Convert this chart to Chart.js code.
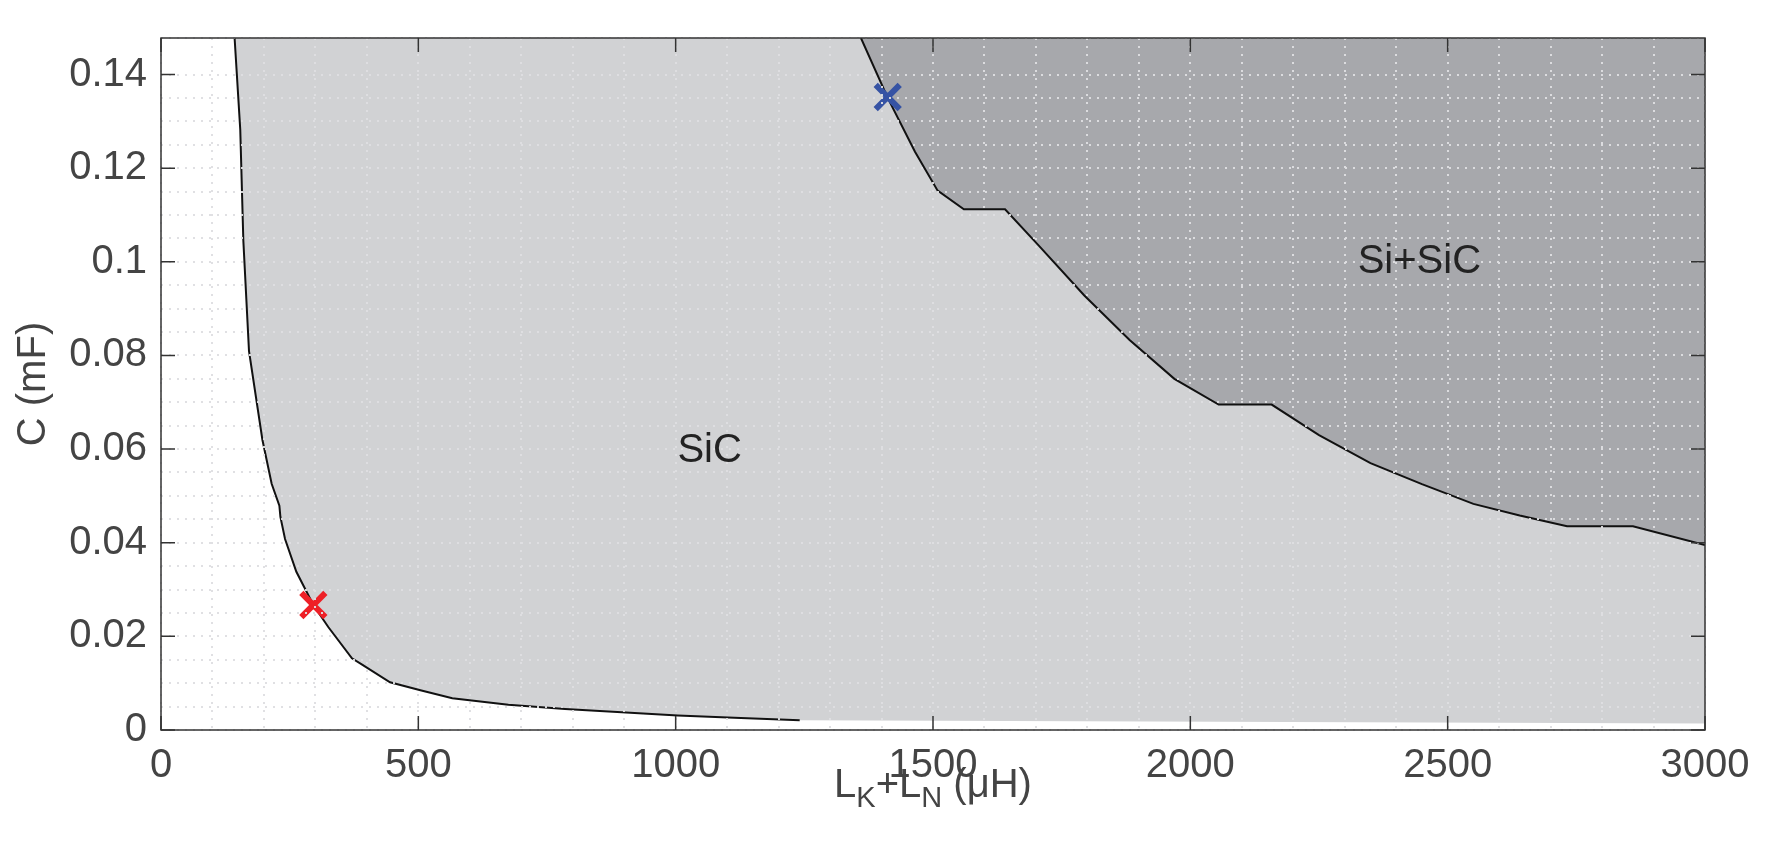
<!DOCTYPE html>
<html>
<head>
<meta charset="utf-8">
<script src="https://cdn.jsdelivr.net/npm/chart.js@4"></script>
<style>
  body { margin: 0; background: #fff; }
  #wrap { width: 1770px; height: 855px; }
</style>
</head>
<body>
<div id="wrap"><canvas id="grafico"></canvas></div>
<script>
// frontera izquierda (SiC), L en uH y C en mF
const izqL = [143, 154, 160, 171, 197, 215, 230, 232, 241, 263, 296, 325, 371, 390, 445, 504, 566, 675, 785, 895, 1004, 1114, 1241];
const izqC = [0.1478, 0.1282, 0.1045, 0.0809, 0.0620, 0.0526, 0.0479, 0.0455, 0.0408, 0.0338, 0.0267, 0.0220, 0.0153, 0.0140, 0.0102, 0.0085, 0.0068, 0.0054, 0.0045, 0.0038, 0.0031, 0.0026, 0.0021];
// frontera Si+SiC
const supL = [1360, 1412, 1465, 1509, 1560, 1640, 1706, 1794, 1882, 1969, 2055, 2158, 2250, 2350, 2450, 2550, 2640, 2732, 2860, 3000];
const supC = [0.1478, 0.1350, 0.1235, 0.1152, 0.1112, 0.1112, 0.1034, 0.0928, 0.0833, 0.0750, 0.0695, 0.0695, 0.0630, 0.0570, 0.0525, 0.0483, 0.0458, 0.0435, 0.0435, 0.0395];
const fondoC = 0.0014; // borde inferior de la zona gris
const puntoRojo = [296, 0.0267];
const puntoAzul = [1412, 0.1352];
const xMax = 3000, yMax = 0.1478;

const curvaIzq = izqL.map((l, i) => ({x: l, y: izqC[i]}));
const zonaIzq = curvaIzq.concat([{x: xMax, y: fondoC}]);
const ptsSup = supL.map((l, i) => ({x: l, y: supC[i]}));

const esMayorY = v => Math.abs(v / 0.02 - Math.round(v / 0.02)) < 1e-6;
const colorRejilla = "rgba(222,222,225,0.95)";
const fuente = "'Liberation Sans', Arial, sans-serif";

// textos, ticks interiores y titulos de ejes
const extras = {
  id: "extras",
  afterDraw(chart) {
    const c = chart.ctx, x = chart.scales.x, y = chart.scales.y, a = chart.chartArea;
    c.save();
    c.strokeStyle = "#333"; c.lineWidth = 1.5;
    for (let v = 0; v <= xMax; v += 500) {
      const px = x.getPixelForValue(v);
      c.beginPath(); c.moveTo(px, a.bottom); c.lineTo(px, a.bottom - 14);
      c.moveTo(px, a.top); c.lineTo(px, a.top + 14); c.stroke();
    }
    for (let v = 0; v <= 0.14 + 1e-9; v += 0.02) {
      const py = y.getPixelForValue(v);
      c.beginPath(); c.moveTo(a.left, py); c.lineTo(a.left + 14, py);
      c.moveTo(a.right, py); c.lineTo(a.right - 14, py); c.stroke();
    }
    c.strokeRect(a.left, a.top, a.right - a.left, a.bottom - a.top);
    c.fillStyle = "#222";
    c.font = "40px " + fuente;
    c.textAlign = "center"; c.textBaseline = "middle";
    c.fillText("SiC", x.getPixelForValue(1066), y.getPixelForValue(0.0597));
    c.fillText("Si+SiC", x.getPixelForValue(2445), y.getPixelForValue(0.0999));
    // titulo eje y
    c.fillStyle = "#444";
    c.save();
    c.translate(34, (a.top + a.bottom) / 2);
    c.rotate(-Math.PI / 2);
    c.font = "40px " + fuente;
    c.fillText("C (mF)", 0, 0);
    c.restore();
    // titulo eje x con subindices
    const partes = [["L", 0], ["K", 1], ["+L", 0], ["N", 1], [" (\u03bcH)", 0]];
    const fN = "40px " + fuente, fS = "29px " + fuente;
    let ancho = 0;
    partes.forEach(p => { c.font = p[1] ? fS : fN; ancho += c.measureText(p[0]).width; });
    let px = (a.left + a.right) / 2 - ancho / 2;
    const base = 797;
    c.textAlign = "left"; c.textBaseline = "alphabetic";
    partes.forEach(p => {
      c.font = p[1] ? fS : fN;
      c.fillText(p[0], px, base + (p[1] ? 10 : 0));
      px += c.measureText(p[0]).width;
    });
    c.restore();
  }
};

new Chart(document.getElementById("grafico"), {
  type: "scatter",
  data: {
    datasets: [
      {
        data: zonaIzq, showLine: true, fill: "end", order: 4,
        backgroundColor: "#d1d2d4", borderWidth: 0, borderColor: "rgba(0,0,0,0)", pointRadius: 0
      },
      {
        data: curvaIzq, showLine: true, fill: false, order: 3,
        borderColor: "#111", borderWidth: 2, pointRadius: 0
      },
      {
        data: ptsSup, showLine: true, fill: "end", order: 2,
        backgroundColor: "#a7a8ac", borderColor: "#111", borderWidth: 2, pointRadius: 0
      },
      {
        data: [{x: puntoRojo[0], y: puntoRojo[1]}], order: 1,
        pointStyle: "crossRot", pointRadius: 17, borderColor: "#ee2027", borderWidth: 6
      },
      {
        data: [{x: puntoAzul[0], y: puntoAzul[1]}], order: 1,
        pointStyle: "crossRot", pointRadius: 17, borderColor: "#3653a4", borderWidth: 6
      }
    ]
  },
  options: {
    responsive: true, maintainAspectRatio: false, animation: false,
    devicePixelRatio: 1,
    layout: { padding: { top: 7, right: 65, left: 0, bottom: 0 } },
    plugins: { legend: { display: false }, tooltip: { enabled: false } },
    scales: {
      x: {
        type: "linear", min: 0, max: xMax,
        afterFit: s => { s.height = 125; },
        border: { display: false, dash: [2, 6] },
        grid: { z: 1, color: colorRejilla, lineWidth: 2, drawTicks: false },
        ticks: {
          stepSize: 100, autoSkip: false, maxRotation: 0, padding: 12,
          color: "#444", font: { size: 40, family: fuente },
          callback: v => v % 500 === 0 ? String(v) : ""
        }
      },
      y: {
        type: "linear", min: 0, max: yMax,
        afterFit: s => { s.width = 161; },
        border: { display: false, dash: [2, 6] },
        grid: { z: 1, color: colorRejilla, lineWidth: 2, drawTicks: false },
        ticks: {
          stepSize: 0.005, autoSkip: false, padding: 14,
          color: "#444", font: { size: 40, family: fuente },
          callback: v => esMayorY(v) ? String(Number(v.toFixed(3))) : ""
        }
      }
    }
  },
  plugins: [extras]
});
</script>
</body>
</html>
